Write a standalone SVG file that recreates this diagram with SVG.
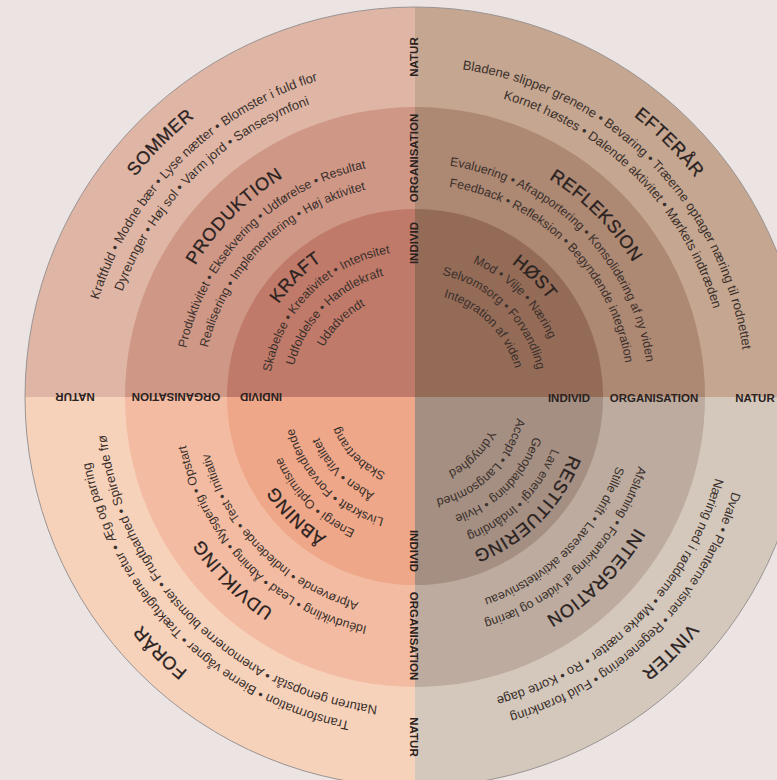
<svg xmlns="http://www.w3.org/2000/svg" width="777" height="780" viewBox="0 0 777 780">
<style>
.t{font-family:"Liberation Sans",Arial,sans-serif;font-size:12.4px;fill:#3a302c;text-anchor:middle}
.o{font-size:13px}
.h{font-family:"Liberation Sans",Arial,sans-serif;font-size:18px;fill:#2a221f;stroke:#2a221f;stroke-width:0.3px;letter-spacing:0.6px;text-anchor:middle}
.ax{font-family:"Liberation Sans",Arial,sans-serif;font-size:11.5px;font-weight:bold;fill:#2a2220;text-anchor:middle}
</style>
<defs>
<path id="p356" d="M142.29,625.83 A356,356 0 0 1 643.83,124.29"/>
<path id="p331" d="M161.44,609.76 A331,331 0 0 1 627.76,143.44"/>
<path id="p311" d="M176.76,596.91 A311,311 0 0 1 614.91,158.76"/>
<path id="p256" d="M218.89,561.55 A256,256 0 0 1 579.55,200.89"/>
<path id="p234" d="M235.75,547.41 A234,234 0 0 1 565.41,217.75"/>
<path id="p213" d="M251.83,533.91 A213,213 0 0 1 551.91,233.83"/>
<path id="p165" d="M288.60,503.06 A165,165 0 0 1 521.06,270.60"/>
<path id="p146" d="M303.16,490.85 A146,146 0 0 1 508.85,285.16"/>
<path id="p125" d="M319.24,477.35 A125,125 0 0 1 495.35,301.24"/>
<path id="p104" d="M335.33,463.85 A104,104 0 0 1 481.85,317.33"/>
<path id="p81" d="M352.95,449.07 A81,81 0 0 1 467.07,334.95"/>
</defs>
<rect width="777" height="780" fill="#ebe4e2"/>

<g id="sommer">
<path d="M415,397 L25,397 A390,390 0 0 1 415,7 Z" fill="#dfb6a5"/>
<path d="M415,397 L125,397 A290,290 0 0 1 415,107 Z" fill="#cf9786"/>
<path d="M415,397 L227,397 A188,188 0 0 1 415,209 Z" fill="#c07a69"/>
<text class="h"><textPath href="#p356" startOffset="50%">SOMMER</textPath></text>
<text class="t o"><textPath href="#p331" startOffset="50%">Kraftfuld • Modne bær • Lyse nætter • Blomster i fuld flor</textPath></text>
<text class="t o"><textPath href="#p311" startOffset="50%">Dyreunger • Høj sol • Varm jord • Sansesymfoni</textPath></text>
<text class="h"><textPath href="#p256" startOffset="50%">PRODUKTION</textPath></text>
<text class="t"><textPath href="#p234" startOffset="50%">Produktivitet • Eksekvering • Udførelse • Resultat</textPath></text>
<text class="t"><textPath href="#p213" startOffset="50%">Realisering • Implementering • Høj aktivitet</textPath></text>
<text class="h"><textPath href="#p165" startOffset="50%">KRAFT</textPath></text>
<text class="t"><textPath href="#p146" startOffset="50%">Skabelse • Kreativitet • Intensitet</textPath></text>
<text class="t"><textPath href="#p125" startOffset="50%">Udfoldelse • Handlekraft</textPath></text>
<text class="t"><textPath href="#p104" startOffset="50%">Udadvendt</textPath></text>
</g>

<g id="efteraar">
<path d="M415,397 L415,7 A390,390 0 0 1 805,397 Z" fill="#c5a690"/>
<path d="M415,397 L415,107 A290,290 0 0 1 705,397 Z" fill="#ad8873"/>
<path d="M415,397 L415,209 A188,188 0 0 1 603,397 Z" fill="#946b57"/>
<g transform="rotate(90 415 397)">
<text class="h"><textPath href="#p356" startOffset="50%">EFTERÅR</textPath></text>
<text class="t o"><textPath href="#p331" startOffset="50%">Bladene slipper grenene • Bevaring • Træerne optager næring til rodnettet</textPath></text>
<text class="t o"><textPath href="#p311" startOffset="50%">Kornet høstes • Dalende aktivitet • Mørkets indtræden</textPath></text>
<text class="h"><textPath href="#p256" startOffset="50%">REFLEKSION</textPath></text>
<text class="t"><textPath href="#p234" startOffset="50%">Evaluering • Afrapportering • Konsolidering af ny viden</textPath></text>
<text class="t"><textPath href="#p213" startOffset="50%">Feedback • Refleksion • Begyndende integration</textPath></text>
<text class="h"><textPath href="#p165" startOffset="50%">HØST</textPath></text>
<text class="t"><textPath href="#p146" startOffset="50%">Mod • Vilje • Næring</textPath></text>
<text class="t"><textPath href="#p125" startOffset="50%">Selvomsorg • Forvandling</textPath></text>
<text class="t"><textPath href="#p104" startOffset="50%">Integration af viden</textPath></text>
</g>
</g>

<g id="vinter">
<path d="M415,397 L805,397 A390,390 0 0 1 415,787 Z" fill="#d4c8bc"/>
<path d="M415,397 L705,397 A290,290 0 0 1 415,687 Z" fill="#bcab9e"/>
<path d="M415,397 L603,397 A188,188 0 0 1 415,585 Z" fill="#a48f82"/>
<g transform="rotate(180 415 397)">
<text class="h"><textPath href="#p356" startOffset="50%">VINTER</textPath></text>
<text class="t o"><textPath href="#p331" startOffset="50%">Dvale • Planterne visner • Regenerering • Fuld forankring</textPath></text>
<text class="t o"><textPath href="#p311" startOffset="50%">Næring ned i rødderne • Mørke nætter • Ro • Korte dage</textPath></text>
<text class="h"><textPath href="#p256" startOffset="50%">INTEGRATION</textPath></text>
<text class="t"><textPath href="#p234" startOffset="50%">Afslutning • Forankring af viden og læring</textPath></text>
<text class="t"><textPath href="#p213" startOffset="50%">Stille drift • Laveste aktivitetsniveau</textPath></text>
<text class="h"><textPath href="#p165" startOffset="50%">RESTITUERING</textPath></text>
<text class="t"><textPath href="#p146" startOffset="50%">Lav energi • Indånding</textPath></text>
<text class="t"><textPath href="#p125" startOffset="50%">Genopladning • Hvile</textPath></text>
<text class="t"><textPath href="#p104" startOffset="50%">Accept • Langsomhed</textPath></text>
<text class="t"><textPath href="#p81" startOffset="50%">Ydmyghed</textPath></text>
</g>
</g>

<g id="foraar">
<path d="M415,397 L415,787 A390,390 0 0 1 25,397 Z" fill="#f7d2bb"/>
<path d="M415,397 L415,687 A290,290 0 0 1 125,397 Z" fill="#f3bca2"/>
<path d="M415,397 L415,585 A188,188 0 0 1 227,397 Z" fill="#eea789"/>
<g transform="rotate(270 415 397)">
<text class="h"><textPath href="#p356" startOffset="50%">FORÅR</textPath></text>
<text class="t o"><textPath href="#p331" startOffset="50%">Transformation • Bierne vågner • Trækfuglene retur • Æg og parring</textPath></text>
<text class="t o"><textPath href="#p311" startOffset="50%">Naturen genopstår • Anemonerne blomster • Frugtbarhed • Spirende frø</textPath></text>
<text class="h"><textPath href="#p256" startOffset="50%">UDVIKLING</textPath></text>
<text class="t"><textPath href="#p234" startOffset="50%">Idéudvikling • Lead • Åbning • Nysgerrig • Opstart</textPath></text>
<text class="t"><textPath href="#p213" startOffset="50%">Afprøvende • Indledende • Test • Initiativ</textPath></text>
<text class="h"><textPath href="#p165" startOffset="50%">ÅBNING</textPath></text>
<text class="t"><textPath href="#p146" startOffset="50%">Energi • Optimisme</textPath></text>
<text class="t"><textPath href="#p125" startOffset="50%">Livskraft • Forvandlende</textPath></text>
<text class="t"><textPath href="#p104" startOffset="50%">Åben • Vitalitet</textPath></text>
<text class="t"><textPath href="#p81" startOffset="50%">Skabertrang</textPath></text>
</g>
</g>

<circle id="rim" cx="415" cy="397" r="390" fill="none" stroke="#9a9494" stroke-width="1"/>

<g id="axes">
<g id="ax-right">
<text class="ax" x="569" y="402">INDIVID</text>
<text class="ax" x="654" y="402">ORGANISATION</text>
<text class="ax" x="755" y="402">NATUR</text>
</g>
<g id="ax-top" transform="rotate(-90 415 397)">
<text class="ax" x="569" y="399.5">INDIVID</text>
<text class="ax" x="654" y="399.5">ORGANISATION</text>
<text class="ax" x="755" y="399.5">NATUR</text>
</g>
<g id="ax-bottom" transform="rotate(90 415 397)">
<text class="ax" x="569" y="402.5">INDIVID</text>
<text class="ax" x="654" y="402.5">ORGANISATION</text>
<text class="ax" x="755" y="402.5">NATUR</text>
</g>
<g id="ax-left" transform="rotate(180 415 397)">
<text class="ax" x="569" y="401.5">INDIVID</text>
<text class="ax" x="654" y="401.5">ORGANISATION</text>
<text class="ax" x="755" y="401.5">NATUR</text>
</g>
</g>
</svg>
